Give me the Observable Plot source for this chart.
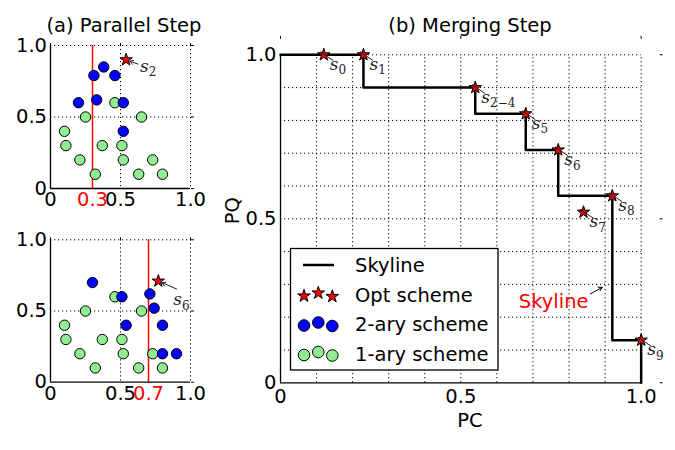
<!DOCTYPE html>
<html><head><meta charset="utf-8">
<script src="https://cdn.jsdelivr.net/npm/d3@7"></script>
<script src="https://cdn.jsdelivr.net/npm/@observablehq/plot@0.6"></script>
<style>
body{margin:0;background:#fff;}
#wrap{position:relative;width:675px;height:450px;overflow:hidden;font-family:"DejaVu Sans",sans-serif;}
#wrap svg{position:absolute;left:0;top:0;}
</style></head>
<body><div id="wrap"></div>
<script>
// ---------- data ----------
// 1-ary scheme (same in both parallel-step panels)
const greenX = [0.46, 0.25, 0.65, 0.10, 0.11, 0.37, 0.51, 0.21, 0.52, 0.73, 0.32, 0.63, 0.80];
const greenY = [0.60, 0.50, 0.50, 0.40, 0.30, 0.30, 0.30, 0.20, 0.20, 0.20, 0.10, 0.10, 0.10];
// 2-ary scheme, top panel (split at 0.3)
const blueTopX = [0.31, 0.38, 0.46, 0.20, 0.33, 0.52, 0.52];
const blueTopY = [0.79, 0.85, 0.79, 0.60, 0.62, 0.60, 0.40];
// 2-ary scheme, bottom panel (split at 0.7)
const blueBotX = [0.30, 0.51, 0.71, 0.74, 0.54, 0.80, 0.80, 0.90];
const blueBotY = [0.70, 0.60, 0.62, 0.52, 0.40, 0.40, 0.20, 0.20];
// opt scheme points in the parallel step (label = subscript of s)
const optTopX = [0.54], optTopY = [0.90], optTopSub = ["2"];
const optBotX = [0.77], optBotY = [0.71], optBotSub = ["6"];
// split positions
const splitTop = [0.3];
const splitBot = [0.7];
// merging step: opt scheme points
const optX = [0.12, 0.23, 0.54, 0.68, 0.77, 0.84, 0.92, 1.00];
const optY = [1.00, 1.00, 0.90, 0.82, 0.71, 0.52, 0.57, 0.13];
const optSub = ["0", "1", "2\u22124", "5", "6", "7", "8", "9"];
// skyline corners (step-after)
const skyX = [0, 0.23, 0.54, 0.68, 0.77, 0.92, 1.00];
const skyY = [1.00, 0.90, 0.82, 0.71, 0.57, 0.13, 0];
// ticks / grid
const ticksMain = [0, 0.5, 1.0];
const gridA = [0.5, 1.0];
const gridB = [0.1, 0.2, 0.3, 0.4, 0.5, 0.6, 0.7, 0.8, 0.9, 1.0];
// annotation
const noteText = ["Skyline"];
const noteAt = [0.854, 0.246];
const noteArrowFrom = [0.859, 0.271];
const noteArrowTo = [0.892, 0.291];
const titles = ["(a) Parallel Step", "(b) Merging Step"];
const axisLabels = ["PC", "PQ"];
const legendLabels = ["Skyline", "Opt scheme", "2-ary scheme", "1-ary scheme"];

// ---------- helpers ----------
const pts = (xs, ys, labels) => xs.map((x, i) => ({x, y: ys[i], label: labels ? labels[i] : null}));
const fmt = d => d === 0 ? "0" : d.toFixed(1);
const FS = 19.5;
const GREEN = "#90ee90", BLUE = "#0000ff", RED = "#ff0000";
const SUBMARK = "s_";
const dotted = {stroke: "black", strokeWidth: 1, strokeDasharray: "1.2,2.8"};
const baseStyle = {background: "none", fontFamily: "DejaVu Sans", fontSize: FS + "px", color: "black", overflow: "visible"};
const wrap = document.getElementById("wrap");
const sLabel = (data, dx, dy) => Plot.text(data, {x: "x", y: "y", text: d => SUBMARK + d.label, dx, dy, textAnchor: "start",
  lineAnchor: "middle", fontSize: 16, fill: "#222"});

function panelA(opts) {
  const {mt, mb, blue, star, split, arrowOff, labelDx, labelDy} = opts;
  return Plot.plot({
    width: 675, height: 450,
    marginLeft: 50, marginRight: 485, marginTop: mt, marginBottom: mb,
    x: {domain: [0, 1]}, y: {domain: [0, 1]},
    style: baseStyle,
    marks: [
      Plot.ruleX(gridA, {x: d => d, ...dotted}),
      Plot.ruleY(gridA, {y: d => d, ...dotted}),
      Plot.ruleX(split, {x: d => d, stroke: RED, strokeWidth: 1.5}),
      Plot.dot(pts(greenX, greenY), {x: "x", y: "y", r: 5.2, fill: GREEN, stroke: "black", strokeWidth: 1}),
      Plot.dot(blue, {x: "x", y: "y", r: 5.2, fill: BLUE, stroke: "black", strokeWidth: 1}),
      Plot.dot(star, {x: "x", y: "y", symbol: "star", r: 3.9, fill: RED, stroke: "black", strokeWidth: 1}),
      Plot.arrow(star, {x1: d => d.x + arrowOff[0], y1: d => d.y - arrowOff[1], x2: "x", y2: "y",
        stroke: "#222", strokeWidth: 1, headLength: 6, insetEnd: 4}),
      sLabel(star, labelDx, labelDy),
      Plot.ruleX([0], {x: d => d, y1: 0, y2: 1, stroke: "black", strokeWidth: 1.3}),
      Plot.ruleY([0], {y: d => d, x1: 0, x2: 1, stroke: "black", strokeWidth: 1.3}),
      Plot.axisX(ticksMain, {tickSize: 0, tickPadding: 4, fontSize: FS, tickFormat: fmt, label: null}),
      Plot.axisX(split, {tickSize: 0, tickPadding: 4, fontSize: FS, tickFormat: fmt, label: null, color: RED}),
      Plot.axisY(ticksMain, {tickSize: 0, tickPadding: 3.5, fontSize: FS, tickFormat: fmt, label: null}),
      Plot.axisX(ticksMain, {anchor: "top", tickSize: 3, tickFormat: () => "", label: null}),
      Plot.axisY(ticksMain, {anchor: "right", tickSize: 3, tickFormat: () => "", label: null})
    ]
  });
}

wrap.appendChild(panelA({
  mt: 45, mb: 262,
  blue: pts(blueTopX, blueTopY), star: pts(optTopX, optTopY, optTopSub), split: splitTop,
  arrowOff: [0.085, 0.03], labelDx: 14, labelDy: 7
}));
wrap.appendChild(panelA({
  mt: 239.3, mb: 68.3,
  blue: pts(blueBotX, blueBotY), star: pts(optBotX, optBotY, optBotSub), split: splitBot,
  arrowOff: [0.13, 0.055], labelDx: 15, labelDy: 19
}));

// ---------- panel (b) ----------
const opt = pts(optX, optY, optSub);
const sky = pts(skyX, skyY);
wrap.appendChild(Plot.plot({
  width: 675, height: 450,
  marginLeft: 280, marginRight: 16.3, marginTop: 37.9, marginBottom: 67.7,
  x: {domain: [0, 1.05]}, y: {domain: [0, 1.05]},
  style: baseStyle,
  marks: [
    Plot.ruleX(gridB, {x: d => d, y1: 0, y2: 1, ...dotted}),
    Plot.ruleY(gridB, {y: d => d, x1: 0, x2: 1, ...dotted}),
    Plot.ruleX([0], {x: d => d, y1: 0, y2: 1, stroke: "black", strokeWidth: 1.3}),
    Plot.ruleY([0], {y: d => d, x1: 0, x2: 1, stroke: "black", strokeWidth: 1.3}),
    Plot.line(sky, {x: "x", y: "y", curve: "step-after", stroke: "black", strokeWidth: 2.5}),
    Plot.dot(opt, {x: "x", y: "y", symbol: "star", r: 3.9, fill: RED, stroke: "black", strokeWidth: 1}),
    Plot.arrow(opt, {x1: d => d.x + 0.026, y1: d => d.y - 0.017, x2: d => d.x - 0.008, y2: d => d.y + 0.008,
      stroke: "#222", strokeWidth: 1, headLength: 4}),
    sLabel(opt, 6, 10),
    Plot.text(noteText, {x: () => noteAt[0], y: () => noteAt[1], text: d => d, textAnchor: "end", fill: RED, fontSize: FS}),
    Plot.arrow(noteText, {x1: () => noteArrowFrom[0], y1: () => noteArrowFrom[1], x2: () => noteArrowTo[0], y2: () => noteArrowTo[1],
      stroke: "black", strokeWidth: 1, headLength: 6}),
    Plot.axisX(ticksMain, {tickSize: 0, tickPadding: 6, fontSize: FS, tickFormat: fmt, label: null}),
    Plot.axisY(ticksMain, {tickSize: 0, tickPadding: 4, fontSize: FS, tickFormat: fmt, label: null}),
    Plot.axisX(ticksMain, {anchor: "top", tickSize: 3, tickFormat: () => "", label: null}),
    Plot.axisY(ticksMain, {anchor: "right", tickSize: 3, tickFormat: () => "", label: null}),
    Plot.text([axisLabels[0]], {text: d => d, frameAnchor: "bottom", dy: 38, lineAnchor: "middle", textAnchor: "middle", fontSize: FS}),
    Plot.text([axisLabels[1]], {text: d => d, frameAnchor: "left", dx: -48, rotate: -90, lineAnchor: "middle", textAnchor: "middle", fontSize: FS})
  ]
}));

// subscripted star labels: s_{label}
d3.select(wrap).selectAll("text").each(function () {
  const t = d3.select(this);
  const s = t.text();
  if (!s.startsWith(SUBMARK)) return;
  const sub = s.slice(SUBMARK.length);
  t.text(null);
  t.append("tspan").attr("font-family", "DejaVu Serif").attr("font-style", "italic").attr("font-size", 17).text("s");
  t.append("tspan").attr("font-family", "DejaVu Serif").attr("font-size", 12).attr("dy", 4.5).text(sub);
});

// ---------- titles + legend overlay ----------
const ov = d3.select(wrap).append("svg").attr("width", 675).attr("height", 450)
  .style("font-family", "DejaVu Sans").style("font-size", FS + "px");
ov.append("text").attr("x", 124).attr("y", 32).attr("text-anchor", "middle").text(titles[0]);
ov.append("text").attr("x", 470).attr("y", 32).attr("text-anchor", "middle").text(titles[1]);

const lg = ov.append("g");
lg.append("rect").attr("x", 290.5).attr("y", 248.5).attr("width", 207.5).attr("height", 121.5)
  .attr("fill", "white").attr("stroke", "black").attr("stroke-width", 1.3);
const rowY = [265, 294.5, 324, 353.5];
lg.append("line").attr("x1", 303).attr("x2", 334).attr("y1", rowY[0]).attr("y2", rowY[0])
  .attr("stroke", "black").attr("stroke-width", 2.5);
const symX = [304, 318.3, 332.3], symDy = [1.5, -1.5, 2];
const starPath = d3.symbol().type(d3.symbolStar).size(50)();
symX.forEach((x, i) => {
  lg.append("path").attr("d", starPath).attr("transform", `translate(${x},${rowY[1] + symDy[i]})`)
    .attr("fill", RED).attr("stroke", "black").attr("stroke-width", 1);
  lg.append("circle").attr("cx", x).attr("cy", rowY[2] + symDy[i]).attr("r", 5.8)
    .attr("fill", BLUE).attr("stroke", "black").attr("stroke-width", 1);
  lg.append("circle").attr("cx", x).attr("cy", rowY[3] + symDy[i]).attr("r", 5.8)
    .attr("fill", GREEN).attr("stroke", "black").attr("stroke-width", 1);
});
legendLabels.forEach((t, i) => {
  lg.append("text").attr("x", 355).attr("y", rowY[i]).attr("dy", "0.36em").text(t);
});
</script>
</body></html>
